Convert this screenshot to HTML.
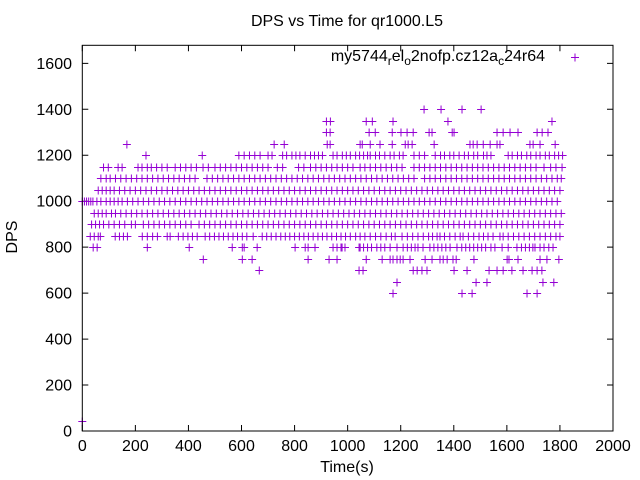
<!DOCTYPE html>
<html><head><meta charset="utf-8"><style>
body{margin:0;background:#fff;}
svg{display:block;font-family:"Liberation Sans",sans-serif;}
</style></head><body>
<svg id="chart" width="640" height="480" viewBox="0 0 640 480">
<rect width="640" height="480" fill="#fff"/>
<text x="347" y="26" font-size="16" text-anchor="middle">DPS vs Time for qr1000.L5</text>
<text transform="translate(17,237) rotate(-90)" font-size="16" text-anchor="middle">DPS</text>
<text x="347" y="472" font-size="16" text-anchor="middle">Time(s)</text>
<g id="ticks"></g>
<g id="marks"></g>
<rect x="82.3" y="45.3" width="530.7" height="385.7" fill="none" stroke="#000" stroke-width="1"/>
<g>
<text x="545" y="61" font-size="16" text-anchor="end">my5744<tspan font-size="12" dy="4">r</tspan><tspan dy="-4">el</tspan><tspan font-size="12" dy="4">o</tspan><tspan dy="-4">2nofp.cz12a</tspan><tspan font-size="12" dy="4">c</tspan><tspan dy="-4">24r64</tspan></text>
<path d="M571,57.5h8M575,53.5v8" stroke="#9400d3" stroke-width="1"/>
</g>
</svg>
<script>
const xTicks=[0,200,400,600,800,1000,1200,1400,1600,1800,2000];
const yTicks=[0,200,400,600,800,1000,1200,1400,1600];
const levels=[45,600,650,700,750,800,850,900,950,1000,1050,1100,1150,1200,1250,1300,1350,1400];
const t45=[0];
const t600=[1171,1431,1469,1676,1714];
const t650=[1186,1484,1525,1736,1777];
const t700=[667,1043,1058,1247,1262,1280,1299,1401,1450,1533,1563,1586,1619,1661,1695,1714,1732];
const t750=[456,603,640,851,930,960,1070,1130,1160,1171,1186,1198,1209,1235,1292,1318,1348,1360,1375,1397,1409,1476,1601,1608,1642,1725,1751,1796];
const t800=[41,56,245,403,565,603,610,659,802,840,851,877,945,979,1047,960,975,990,1043,1060,1075,1090,1110,1125,1140,1160,1186,1209,1225,1240,1254,1265,1284,1310,1325,1340,1355,1370,1386,1412,1430,1445,1460,1475,1490,1505,1520,1540,1555,1582,1605,1638,1655,1670,1685,1698,1706,1725,1740,1758,1774];
const t850=[30,45,60,68,124,140,155,170,226,245,265,283,320,331,362,380,398,415,433,463,480,498,515,532,550,568,585,603,620,644,678,695,712,730,748,765,782,800,818,835,852,870,888,905,922,940,958,975,992,1010,1030,1047,1065,1085,1105,1125,1145,1165,1179,1205,1225,1245,1265,1285,1305,1320,1337,1348,1365,1385,1405,1424,1435,1455,1475,1495,1512,1529,1548,1574,1586,1605,1625,1645,1665,1685,1705,1725,1745,1765,1785,1800];
const t900=[35,50,65,80,100,120,140,160,185,200,230,250,270,290,310,330,350,370,390,410,440,460,480,500,520,540,560,580,600,620,640,660,680,700,720,740,760,780,800,820,840,860,880,900,920,940,960,980,1000,1020,1040,1060,1080,1100,1120,1140,1160,1180,1200,1220,1240,1260,1280,1300,1320,1340,1360,1380,1400,1420,1440,1460,1480,1500,1520,1540,1560,1580,1600,1620,1640,1660,1680,1700,1720,1740,1760,1780,1800];
const t950=[45,60,75,90,110,125,145,165,185,205,225,245,265,285,305,325,345,365,385,405,425,445,465,485,505,525,545,565,585,605,625,645,665,685,705,725,745,765,785,805,825,845,865,885,905,925,945,965,985,1005,1025,1045,1065,1085,1105,1125,1145,1165,1185,1205,1225,1245,1265,1285,1305,1325,1345,1365,1385,1405,1425,1445,1465,1485,1505,1525,1545,1565,1585,1605,1625,1645,1665,1685,1705,1725,1745,1765,1785,1805];
const t1000=[0,8,16,24,32,40,55,70,90,105,120,135,150,170,190,210,230,250,270,290,310,330,350,370,390,410,430,450,470,490,510,530,550,570,590,610,630,650,670,690,710,730,750,770,790,810,830,850,870,890,910,930,950,970,990,1010,1030,1050,1070,1090,1110,1130,1150,1170,1190,1210,1230,1250,1270,1290,1310,1330,1350,1370,1390,1410,1430,1450,1470,1490,1510,1530,1550,1570,1590,1610,1630,1650,1670,1690,1710,1730,1750,1770,1790];
const t1050=[60,75,90,105,120,140,160,180,200,220,240,260,280,300,320,340,360,380,400,420,440,460,480,500,520,540,560,580,600,620,640,660,680,700,720,740,760,780,800,820,840,860,880,900,920,940,960,980,1000,1020,1040,1060,1080,1100,1120,1140,1160,1180,1200,1220,1240,1260,1280,1300,1320,1340,1360,1380,1400,1420,1440,1460,1480,1500,1520,1540,1560,1580,1600,1620,1640,1660,1680,1700,1720,1740,1760,1780,1800];
const t1100=[70,90,105,125,145,165,185,205,225,245,265,285,305,325,345,365,385,405,425,470,490,510,530,550,570,590,610,630,650,670,690,710,730,750,770,790,810,830,850,870,890,910,930,950,970,990,1010,1030,1050,1070,1090,1110,1130,1150,1170,1190,1210,1230,1250,1290,1310,1330,1350,1370,1390,1410,1430,1450,1470,1490,1510,1530,1550,1570,1590,1610,1630,1650,1670,1690,1710,1730,1750,1770,1790,1805];
const t1150=[80,98,135,150,210,225,245,260,280,300,320,350,370,390,410,430,455,475,500,520,540,560,580,600,620,640,660,680,700,735,755,815,835,860,880,900,920,940,960,980,1000,1020,1047,1065,1085,1105,1125,1145,1165,1185,1205,1250,1270,1290,1310,1330,1350,1370,1390,1410,1430,1450,1470,1490,1510,1530,1550,1570,1590,1610,1630,1650,1670,1690,1710,1740,1765,1785,1808];
const t1200=[240,452,590,610,630,650,670,700,715,755,770,790,805,820,840,860,875,890,905,945,960,980,995,1010,1030,1045,1060,1075,1085,1105,1120,1140,1160,1175,1195,1209,1250,1270,1290,1330,1350,1365,1385,1400,1420,1440,1455,1475,1490,1512,1525,1540,1605,1620,1640,1655,1675,1690,1710,1725,1745,1760,1780,1795,1810];
const t1250=[168,723,761,923,934,1047,1055,1085,1122,1168,1217,1228,1243,1326,1461,1473,1488,1511,1537,1563,1574,1687,1699,1725,1782];
const t1300=[920,934,1081,1104,1168,1201,1224,1247,1307,1318,1394,1401,1563,1586,1612,1642,1714,1733,1755];
const t1350=[920,935,1070,1093,1171,1378,1770];
const t1400=[1288,1352,1431,1503];
const seriesTimes=[t45,t600,t650,t700,t750,t800,t850,t900,t950,t1000,t1050,t1100,t1150,t1200,t1250,t1300,t1350,t1400];

const NS='http://www.w3.org/2000/svg';
const X0=82.3,X1=613,Y0=431,YS=0.2298;
function xs(t){return X0+t*(X1-X0)/2000;}
function ys(v){return Y0-v*YS;}

const tg=document.getElementById('ticks');
let td='';
xTicks.forEach(t=>{
  const x=xs(t);
  td+=`M${x},431v-6M${x},45.3v6`;
  const tx=document.createElementNS(NS,'text');
  
  
  tx.setAttribute('x',x);tx.setAttribute('y',451);
  tx.setAttribute('font-size','16');tx.setAttribute('text-anchor','middle');
  tx.textContent=t;tg.appendChild(tx);
});
yTicks.forEach(v=>{
  const y=ys(v);
  td+=`M82.3,${y}h6M613,${y}h-6`;
  const tx=document.createElementNS(NS,'text');
  
  
  tx.setAttribute('x',72);tx.setAttribute('y',y+5.5);
  tx.setAttribute('font-size','16');tx.setAttribute('text-anchor','end');
  tx.textContent=v;tg.appendChild(tx);
});
const tp=document.createElementNS(NS,'path');


tp.setAttribute('d',td);tp.setAttribute('stroke','#000');tp.setAttribute('fill','none');
tg.appendChild(tp);

const mg=document.getElementById('marks');
levels.forEach((v,i)=>{
  let d='';
  seriesTimes[i].forEach(t=>{
    const x=xs(t),y=Math.round(ys(v))+0.5;
    d+=`M${x-4},${y}h8M${x},${y-4}v8`;
  });
  const p=document.createElementNS(NS,'path');
  
  
  p.setAttribute('d',d);p.setAttribute('stroke','#9400d3');p.setAttribute('fill','none');p.setAttribute('stroke-width','1');
  mg.appendChild(p);
});
</script>
</body></html>
